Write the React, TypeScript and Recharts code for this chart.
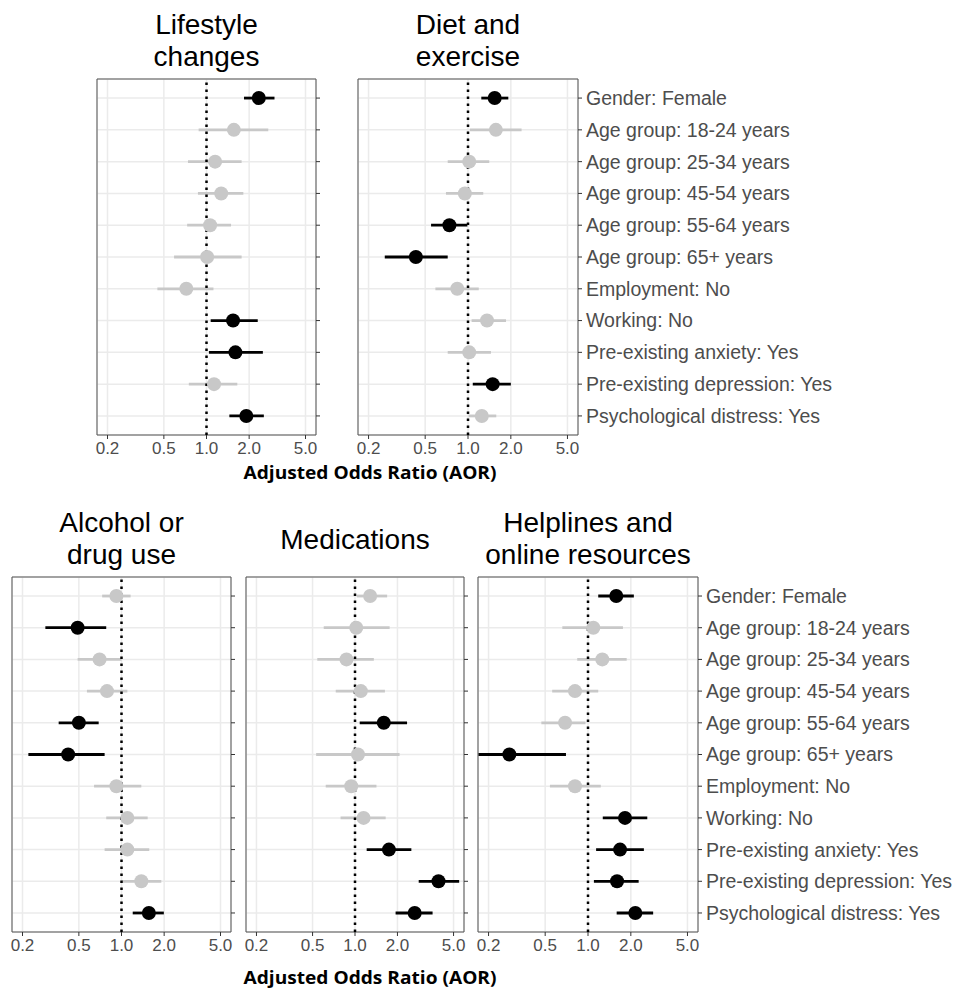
import React from 'react';
import {
    CartesianGrid,
    ErrorBar,
    ReferenceArea,
    ReferenceLine,
    Scatter,
    ScatterChart,
    XAxis,
    YAxis,
} from 'recharts';

// row labels, top to bottom
const ROWS = [
    'Gender: Female',
    'Age group: 18-24 years',
    'Age group: 25-34 years',
    'Age group: 45-54 years',
    'Age group: 55-64 years',
    'Age group: 65+ years',
    'Employment: No',
    'Working: No',
    'Pre-existing anxiety: Yes',
    'Pre-existing depression: Yes',
    'Psychological distress: Yes',
];
const ROW_POS = [11, 10, 9, 8, 7, 6, 5, 4, 3, 2, 1];
const X_TICKS = [0.2, 0.5, 1, 2, 5];

const lifestyleAor = [2.34, 1.56, 1.15, 1.27, 1.06, 1.01, 0.72, 1.54, 1.6, 1.13, 1.91];
const lifestyleLow = [1.84, 0.88, 0.74, 0.87, 0.73, 0.59, 0.45, 1.07, 1.04, 0.75, 1.45];
const lifestyleHigh = [3.02, 2.73, 1.77, 1.82, 1.49, 1.77, 1.12, 2.3, 2.5, 1.65, 2.54];
const lifestyleSig = [1, 0, 0, 0, 0, 0, 0, 1, 1, 0, 1];

const dietAor = [1.54, 1.57, 1.02, 0.95, 0.74, 0.43, 0.84, 1.36, 1.02, 1.49, 1.25];
const dietLow = [1.24, 1.03, 0.72, 0.7, 0.55, 0.26, 0.59, 1.06, 0.72, 1.08, 1.01];
const dietHigh = [1.92, 2.38, 1.41, 1.28, 0.99, 0.72, 1.19, 1.85, 1.45, 2.0, 1.58];
const dietSig = [1, 0, 0, 0, 1, 1, 0, 0, 0, 1, 0];

const alcoholAor = [0.92, 0.49, 0.7, 0.79, 0.5, 0.42, 0.92, 1.1, 1.1, 1.38, 1.56];
const alcoholLow = [0.73, 0.29, 0.49, 0.57, 0.36, 0.22, 0.64, 0.78, 0.76, 1.0, 1.2];
const alcoholHigh = [1.16, 0.78, 1.0, 1.1, 0.69, 0.76, 1.38, 1.53, 1.57, 1.91, 1.99];
const alcoholSig = [0, 1, 0, 0, 1, 1, 0, 0, 0, 0, 1];

const medsAor = [1.28, 1.02, 0.87, 1.1, 1.6, 1.05, 0.94, 1.15, 1.74, 3.91, 2.65];
const medsLow = [1.03, 0.6, 0.54, 0.73, 1.08, 0.53, 0.62, 0.79, 1.21, 2.83, 1.94];
const medsHigh = [1.69, 1.76, 1.36, 1.63, 2.34, 2.07, 1.42, 1.65, 2.51, 5.48, 3.55];
const medsSig = [0, 0, 0, 0, 1, 0, 0, 0, 1, 1, 1];

const helpAor = [1.58, 1.09, 1.26, 0.81, 0.69, 0.28, 0.81, 1.82, 1.68, 1.6, 2.15];
const helpLow = [1.18, 0.66, 0.84, 0.56, 0.47, 0.17, 0.54, 1.27, 1.14, 1.1, 1.59];
const helpHigh = [2.1, 1.76, 1.87, 1.18, 0.96, 0.7, 1.23, 2.61, 2.47, 2.27, 2.87];
const helpSig = [1, 0, 0, 0, 0, 1, 0, 1, 1, 1, 1];

const X_DOMAIN = [0.1686, 5.93];
const Y_DOMAIN = [0.4, 11.6];
const GREY = '#c8c8c8';
const FONT = "'Liberation Sans', Arial, sans-serif";

type PanelProps = {
    left: number;
    top: number;
    w: number;
    h: number;
    aor: number[];
    low: number[];
    high: number[];
    sig: number[];
    labels?: boolean;
};

const Panel = ({ left, top, w, h, aor, low, high, sig, labels }: PanelProps) => {
    const rows = ROWS.map((name, i) => ({
        name,
        y: ROW_POS[i],
        aor: aor[i],
        err: [aor[i] - low[i], high[i] - aor[i]],
        sig: sig[i],
    }));
    const yw = labels ? 270 : 12;
    const pad = 4;
    return (
        <div style={{ position: 'absolute', left: left - pad, top: top - pad }}>
            <ScatterChart
                width={w + yw + pad}
                height={h + pad + 40}
                margin={{ top: pad, left: pad, right: 0, bottom: 0 }}
            >
                <CartesianGrid stroke="#ebebeb" strokeWidth={1.5} />
                <XAxis
                    type="number"
                    dataKey="aor"
                    scale="log"
                    domain={X_DOMAIN}
                    allowDataOverflow
                    ticks={X_TICKS}
                    interval={0}
                    tickFormatter={(v: number) => v.toFixed(1)}
                    axisLine={false}
                    tickSize={4}
                    tickMargin={3}
                    tickLine={{ stroke: '#333' }}
                    tick={{ fill: '#4d4d4d', fontSize: 17, fontFamily: FONT }}
                    height={40}
                />
                <YAxis
                    type="number"
                    dataKey="y"
                    orientation="right"
                    domain={Y_DOMAIN}
                    ticks={ROW_POS}
                    interval={0}
                    tickFormatter={(v: number) => (labels ? ROWS[11 - v] : '')}
                    axisLine={false}
                    tickSize={4}
                    tickMargin={4}
                    tickLine={{ stroke: '#333' }}
                    tick={{ fill: '#4d4d4d', fontSize: 19.5, fontFamily: FONT }}
                    width={yw}
                />
                <Scatter
                    data={rows.filter((r) => !r.sig)}
                    isAnimationActive={false}
                    shape={(p: any) => <circle cx={p.cx} cy={p.cy} r={7} fill={GREY} />}
                >
                    <ErrorBar dataKey="err" direction="x" width={0} stroke={GREY} strokeWidth={2.8} isAnimationActive={false} />
                </Scatter>
                <Scatter
                    data={rows.filter((r) => r.sig)}
                    isAnimationActive={false}
                    shape={(p: any) => <circle cx={p.cx} cy={p.cy} r={7} fill="#000" />}
                >
                    <ErrorBar dataKey="err" direction="x" width={0} stroke="#000" strokeWidth={2.8} isAnimationActive={false} />
                </Scatter>
                <ReferenceLine x={1} stroke="#000" strokeWidth={2.5} strokeDasharray="2.5 4.5" />
                <ReferenceArea
                    x1={X_DOMAIN[0]}
                    x2={X_DOMAIN[1]}
                    y1={Y_DOMAIN[0]}
                    y2={Y_DOMAIN[1]}
                    fill="none"
                    stroke="#555"
                    strokeWidth={1}
                    ifOverflow="visible"
                />
            </ScatterChart>
        </div>
    );
};

const Title = ({ cx, top, lines }: { cx: number; top: number; lines: string[] }) => (
    <div
        style={{
            position: 'absolute',
            left: cx - 150,
            top,
            width: 300,
            textAlign: 'center',
            fontFamily: FONT,
            fontSize: 28,
            lineHeight: '32px',
            color: '#000',
        }}
    >
        {lines.map((l) => (
            <div key={l}>{l}</div>
        ))}
    </div>
);

const AxisTitle = ({ cy }: { cy: number }) => (
    <svg style={{ position: 'absolute', left: 200, top: cy - 15 }} width={340} height={30}>
        <text
            x={170}
            y={21.5}
            textAnchor="middle"
            textLength={253}
            lengthAdjust="spacingAndGlyphs"
            fontFamily="'Open Sans', sans-serif"
            fontWeight="bold"
            fontSize={18}
            fill="#000"
        >
            Adjusted Odds Ratio (AOR)
        </text>
    </svg>
);

export default function App() {
    return (
        <div style={{ position: 'absolute', left: 0, top: 0, width: 955, height: 988, background: '#fff' }}>
            <Title cx={206.5} top={9} lines={['Lifestyle', 'changes']} />
            <Title cx={468} top={9} lines={['Diet and', 'exercise']} />
            <Panel left={97} top={79} w={219} h={356} aor={lifestyleAor} low={lifestyleLow} high={lifestyleHigh} sig={lifestyleSig} />
            <Panel left={358} top={79} w={220} h={356} aor={dietAor} low={dietLow} high={dietHigh} sig={dietSig} labels />
            <AxisTitle cy={472} />

            <Title cx={121.5} top={507} lines={['Alcohol or', 'drug use']} />
            <Title cx={355} top={524} lines={['Medications']} />
            <Title cx={588} top={507} lines={['Helplines and', 'online resources']} />
            <Panel left={12} top={577} w={219} h={355} aor={alcoholAor} low={alcoholLow} high={alcoholHigh} sig={alcoholSig} />
            <Panel left={246} top={577} w={218} h={355} aor={medsAor} low={medsLow} high={medsHigh} sig={medsSig} />
            <Panel left={478} top={577} w={220} h={355} aor={helpAor} low={helpLow} high={helpHigh} sig={helpSig} labels />
            <AxisTitle cy={977} />
        </div>
    );
}
